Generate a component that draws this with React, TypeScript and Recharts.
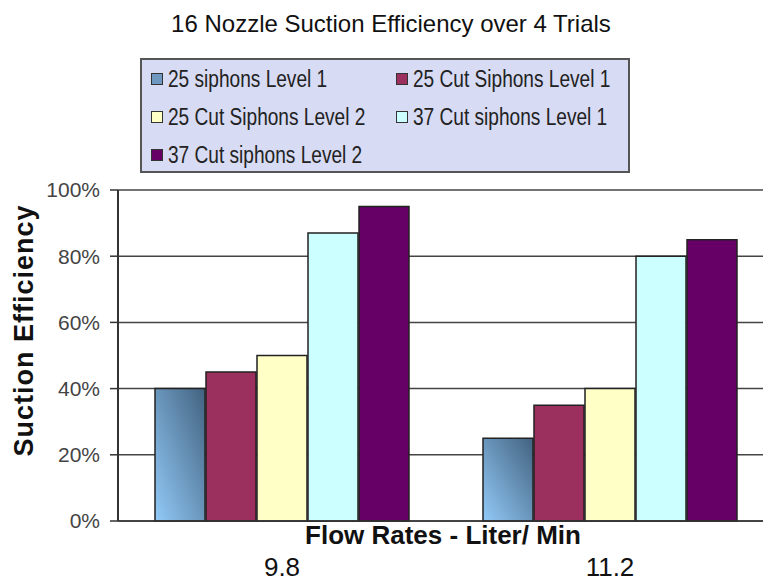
import React from "react";
import { BarChart, Bar, XAxis, YAxis, CartesianGrid, Legend } from "recharts";

const categories = ["9.8", "11.2"];
const siphons25L1 = [0.4, 0.25];
const cut25L1 = [0.45, 0.35];
const cut25L2 = [0.5, 0.4];
const cut37L1 = [0.87, 0.8];
const cut37L2 = [0.95, 0.85];
const yTicks = [0, 0.2, 0.4, 0.6, 0.8, 1];

const series = [
  { key: "s1", name: "25 siphons Level 1", fill: "url(#blueGrad)", swatch: "#6f98c0" },
  { key: "s2", name: "25 Cut Siphons Level 1", fill: "#9b2f5e", swatch: "#9b2f5e" },
  { key: "s3", name: "25 Cut Siphons Level 2", fill: "#ffffc6", swatch: "#ffffc6" },
  { key: "s4", name: "37 Cut siphons Level 1", fill: "#ccffff", swatch: "#ccffff" },
  { key: "s5", name: "37 Cut siphons Level 2", fill: "#660066", swatch: "#660066" },
];

const data = categories.map((c, i) => ({
  flow: c,
  s1: siphons25L1[i],
  s2: cut25L1[i],
  s3: cut25L2[i],
  s4: cut37L1[i],
  s5: cut37L2[i],
}));

const sans = "'Liberation Sans', Arial, sans-serif";

function LegendBox() {
  return (
    <div
      style={{
        width: 490,
        height: 115,
        background: "#d7dbf3",
        border: "2px solid #555",
        boxSizing: "border-box",
        display: "grid",
        gridTemplateColumns: "245px 240px",
        gridAutoRows: "38px",
        padding: "0 0 0 9px",
        fontFamily: sans,
        fontSize: 23,
        color: "#222",
      }}
    >
      {series.map((s) => (
        <div key={s.key} style={{ display: "flex", alignItems: "center", whiteSpace: "nowrap" }}>
          <span
            style={{
              width: 10,
              height: 10,
              border: "1.5px solid #333",
              background: s.swatch,
              marginRight: 5,
              display: "inline-block",
              flex: "none",
            }}
          />
          <span style={{ display: "inline-block", transform: "scaleX(0.83)", transformOrigin: "left center" }}>
            {s.name}
          </span>
        </div>
      ))}
    </div>
  );
}

export default function App() {
  return (
    <div
      style={{
        position: "fixed",
        left: 0,
        top: 0,
        width: 763,
        height: 583,
        overflow: "hidden",
        background: "#fff",
      }}
    >
      <div
        style={{
          position: "absolute",
          left: 0,
          top: 10,
          width: 782,
          textAlign: "center",
          fontFamily: sans,
          fontSize: 24,
          color: "#111",
        }}
      >
        16 Nozzle Suction Efficiency over 4 Trials
      </div>
      <BarChart
        width={774}
        height={583}
        data={data}
        margin={{ top: 190, right: 0, bottom: 0, left: 0 }}
        barCategoryGap={37}
        barGap={1}
      >
        <defs>
          <linearGradient id="blueGrad" x1="0" y1="1" x2="1" y2="0">
            <stop offset="0%" stopColor="#92caf8" />
            <stop offset="100%" stopColor="#42627f" />
          </linearGradient>
        </defs>
        <CartesianGrid vertical={false} stroke="#444" strokeWidth={1.5} />
        <XAxis
          dataKey="flow"
          height={62}
          axisLine={{ stroke: "#333", strokeWidth: 1.5 }}
          tickLine={false}
          tickSize={0}
          tickMargin={37}
          tick={{ fill: "#111", fontSize: 26, fontFamily: sans }}
          label={{
            value: "Flow Rates - Liter/ Min",
            position: "insideTop",
            offset: 5,
            dx: -3,
            fill: "#111",
            fontSize: 26,
            fontWeight: "bold",
            fontFamily: sans,
          }}
        />
        <YAxis
          width={118}
          domain={[0, 1]}
          ticks={yTicks}
          tickFormatter={(v: number) => `${Math.round(v * 100)}%`}
          axisLine={{ stroke: "#333", strokeWidth: 2 }}
          tickLine={{ stroke: "#333", strokeWidth: 1.5 }}
          tickSize={8}
          tickMargin={10}
          tick={{ fill: "#444", fontSize: 21, fontFamily: sans }}
          label={{
            value: "Suction Efficiency",
            angle: -90,
            position: "insideLeft",
            dx: 18,
            dy: -25,
            fill: "#111",
            fontSize: 27,
            fontWeight: "bold",
            fontFamily: sans,
            letterSpacing: 1,
            style: { textAnchor: "middle" },
          }}
        />
        <Legend
          layout="vertical"
          align="center"
          verticalAlign="middle"
          content={() => <LegendBox />}
          wrapperStyle={{ position: "absolute", left: 140, top: 58, width: 490, height: 115 }}
        />
        {series.map((s) => (
          <Bar
            key={s.key}
            dataKey={s.key}
            name={s.name}
            fill={s.fill}
            stroke="#222"
            strokeWidth={1.5}
            isAnimationActive={false}
          />
        ))}
      </BarChart>
    </div>
  );
}
